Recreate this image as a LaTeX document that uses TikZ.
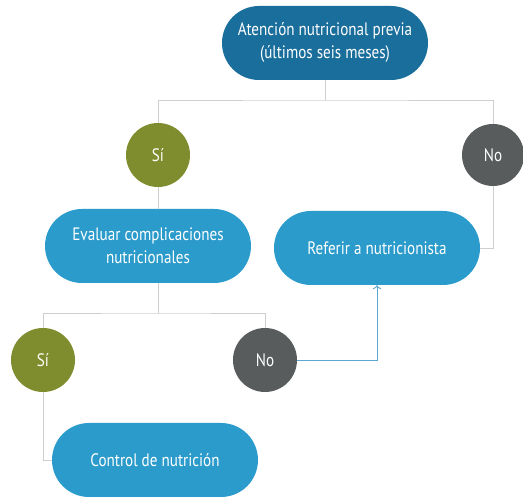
\documentclass[tikz,border=0pt]{standalone}
\usepackage{fontspec}
\setmainfont{PT Sans}[FakeStretch=0.84]
\usetikzlibrary{arrows.meta,positioning}
\definecolor{darkblue}{HTML}{1A6E9C}
\definecolor{midblue}{HTML}{2B9BCB}
\definecolor{olivegreen}{HTML}{7F8D2E}
\definecolor{darkgray}{HTML}{585C5C}
\definecolor{linegray}{HTML}{CFCFCF}
\definecolor{arrowblue}{HTML}{5AA8CF}

\begin{document}
\begin{tikzpicture}[x=1pt, y=1pt,
    pill/.style={draw=none, fill=#1, text=white, font=\fontsize{18}{23}\selectfont,
                 minimum width=206pt, minimum height=74pt, rounded corners=37pt,
                 inner sep=2pt, align=center},
    answer/.style={circle, draw=none, fill=#1, text=white,
                   font=\fontsize{18}{23}\selectfont, minimum size=64pt, inner sep=0pt},
    link/.style={draw=linegray, line width=0.8pt},
]
  \useasboundingbox (0,0) rectangle (523,498);

  \node[pill=darkblue] (prev) at (325,455) {Atención nutricional previa\\(últimos seis meses)};
  \node[answer=olivegreen] (si1) at (158,343) {Sí};
  \node[answer=darkgray, minimum size=62pt] (no1) at (493,343) {No};
  \node[pill=midblue] (eval) at (148,252) {Evaluar complicaciones\\nutricionales};
  \node[pill=midblue] (refer) at (377,250) {Referir a nutricionista};
  \node[answer=olivegreen] (si2) at (43,138) {Sí};
  \node[answer=darkgray] (no2) at (265,138) {No};
  \node[pill=midblue] (ctrl) at (155,38) {Control de nutrición};

  \coordinate (split1) at (prev.south |- 0,398);
  \coordinate (split2) at (si1.south |- 0,185);

  \draw[link] (prev.south) -- (split1);
  \draw[link] (si1.north) |- (split1) -| (no1.north);
  \draw[link] (si1.south) -- (si1 |- eval.north);
  \draw[link] (no1.south) |- (refer.east);

  \draw[link] (si1 |- eval.south) -- (split2);
  \draw[link] (si2.north) |- (split2) -| (no2.north);
  \draw[link] (si2.south) |- (ctrl.west);

  \draw[draw=arrowblue, line width=0.9pt, -{To[length=4pt]}] (no2.east) -| (refer.south);
\end{tikzpicture}
\end{document}
